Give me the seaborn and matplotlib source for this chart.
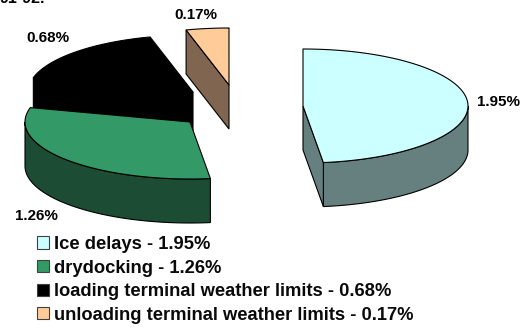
import numpy as np
import matplotlib
matplotlib.use("Agg")
import matplotlib.pyplot as plt
from matplotlib.patches import Patch, Polygon
import seaborn as sns

sns.set_theme(style="white")
plt.rcParams["font.family"] = ["Liberation Sans", "DejaVu Sans"]

# Share of lost time per delay cause, in percent
causes = ["Ice delays", "drydocking", "loading terminal weather limits",
          "unloading terminal weather limits"]
shares = [1.95, 1.26, 0.68, 0.17]
top_colors = ["#CCFFFF", "#339966", "#000000", "#FFCC99"]
side_colors = ["#668080", "#1C4C33", "#000000", "#806650"]

# Exploded centre of each wedge and the pie's projection, in pixels
centres = [(303, 106), (190, 122), (193, 92), (229, 85)]
rx, ry, depth = 165, 57, 44
label_xy = [(477, 102), (15, 216), (26, 38), (174, 15)]

fig = plt.figure(figsize=(5.23, 3.28), dpi=100)
ax = fig.add_axes([0, 0, 1, 1])
ax.set_xlim(0, 523)
ax.set_ylim(328, 0)
ax.axis("off")


def rim(cx, cy, a0, a1):
    """Elliptical rim between two clockwise angles measured from 12 o'clock."""
    t = np.radians(np.linspace(a0, a1, 120))
    return np.column_stack([cx + rx * np.sin(t), cy - ry * np.cos(t)])


def wall(points, color, z):
    """Extrude a polyline downward by the pie's depth."""
    lower = points[::-1] + [0, depth]
    ax.add_patch(Polygon(np.vstack([points, lower]), closed=True, facecolor=color,
                         edgecolor="black", linewidth=0.8, joinstyle="miter", zorder=z))


edges = np.concatenate([[0], np.cumsum(shares)]) / sum(shares) * 360

# Painted from the back wedge to the front one so nearer walls overlap
for i, z in zip([3, 2, 1, 0], [1, 2, 3, 4]):
    a0, a1 = edges[i], edges[i + 1]
    cx, cy = centres[i]
    arc = rim(cx, cy, a0, a1)
    apex = np.array([[cx, cy]])
    if i == 0:
        # Outer wall from 3 o'clock round to the wedge end, plus the cut face
        wall(rim(cx, cy, 90, a1), side_colors[i], z)
        wall(np.vstack([apex, arc[-1:]]), side_colors[i], z)
    elif i == 1:
        wall(rim(cx, cy, a0, 270), side_colors[i], z)
    else:
        wall(np.vstack([arc[:1], apex]), side_colors[i], z)
    top = np.vstack([apex, arc])
    ax.add_patch(Polygon(top, closed=True, facecolor=top_colors[i],
                         edgecolor="black", linewidth=0.8, joinstyle="round", zorder=z + 0.5))
    ax.text(*label_xy[i], f"{shares[i]:.2f}%", fontsize=10.9, fontweight="bold",
            color="black", va="center", ha="left", zorder=6)

# Heading line running off the top edge of the canvas
ax.text(0, 3, "91-92.", fontsize=11.5, fontweight="bold", color="black",
        va="baseline", ha="left", clip_on=False)

handles = [Patch(facecolor=c, edgecolor="#404040", linewidth=0.8) for c in top_colors]
labels = [f"{c} - {s:.2f}%" for c, s in zip(causes, shares)]
ax.legend(handles, labels, loc="upper left", bbox_to_anchor=(37, 236),
          bbox_transform=ax.transData, frameon=False,
          prop={"weight": "bold", "size": 13.2}, labelspacing=0.36, borderpad=0, borderaxespad=0,
          handlelength=0.65, handleheight=0.65, handletextpad=0.27,
          labelcolor="#0a0a0a")

fig.savefig("out.png", dpi=100, facecolor="white")
